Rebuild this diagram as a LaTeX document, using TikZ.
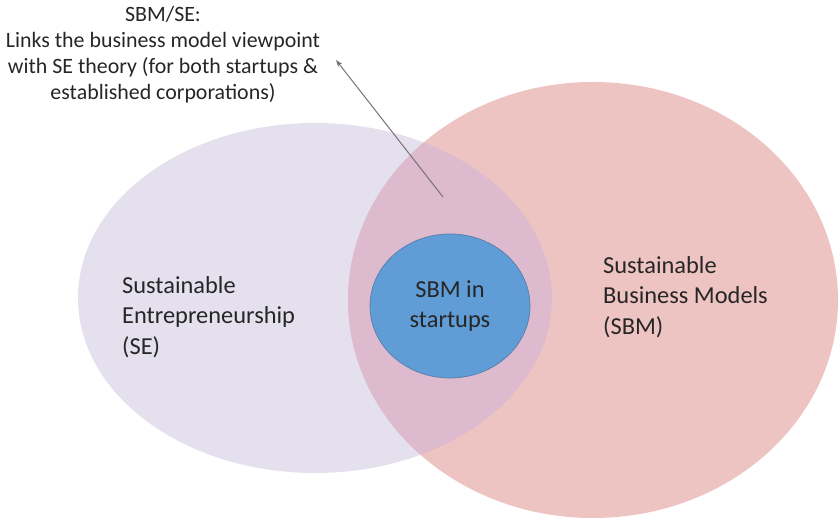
\documentclass[tikz,border=0pt]{standalone}
\usepackage{fontspec}
\setmainfont{Carlito}
\usetikzlibrary{shapes.geometric}
\usetikzlibrary{arrows.meta}
\definecolor{seLilac}{HTML}{E4E0EE}
\definecolor{sbmPink}{HTML}{EEC4C2}
\definecolor{bothMauve}{HTML}{DEBACF}
\definecolor{startBlue}{HTML}{609CD6}
\definecolor{startEdge}{HTML}{557FAA}
\definecolor{inkGray}{HTML}{262626}
\definecolor{pointerGray}{HTML}{7A6F78}
\tikzset{field/.style={ % Sets the properties for each set of the diagram
      ellipse, inner sep=0pt, draw=none},
      field text/.style={ % Text inside the sets
      inner sep=0pt, text=inkGray,
      font=\fontsize{24.4}{30.5}\selectfont},
      pointer/.style={ % Gray arrow from the overlap to the note
      draw=pointerGray, line width=1pt,
      -{Stealth[length=7pt,width=5pt]}}}

\begin{document}
\begin{tikzpicture}[x=1pt, y=-1pt]
      \useasboundingbox (0,0) rectangle (838,518);
      \node[field, fill=seLilac, minimum width=474pt, minimum height=350pt] (se) at (315,298) {};
      \node[field, fill=sbmPink, minimum width=490pt, minimum height=436pt] (sbm) at (593,300) {};
      % overlap of both sets
      \begin{scope}
            \clip (se.center) ellipse [x radius=237, y radius=175];
            \fill[bothMauve] (sbm.center) ellipse [x radius=245, y radius=218];
      \end{scope}
      \node[field, fill=startBlue, draw=startEdge, line width=0.7pt, minimum width=160pt, minimum height=144pt] (startups) at (450,306) {};
      \node[field text, align=left, anchor=west] (seText) at (122,317) {Sustainable\\Entrepreneurship\\(SE)};
      \node[field text, align=left, anchor=west] (sbmText) at (603,297) {Sustainable\\Business Models\\(SBM)};
      \node[field text, align=center] (startText) at (startups.center) {SBM in\\startups};
      \node[text=inkGray, align=center, inner sep=0pt, font=\fontsize{21.9}{26}\selectfont] (note) at (163,55)
            {SBM/SE:\\Links the business model viewpoint\\with SE theory (for both startups \&\\established corporations)};
      \coordinate (overlapPt) at (443,197);
      \coordinate (noteTip) at (336,60);
      \draw[pointer] (overlapPt) -- (noteTip);
\end{tikzpicture}
\end{document}
